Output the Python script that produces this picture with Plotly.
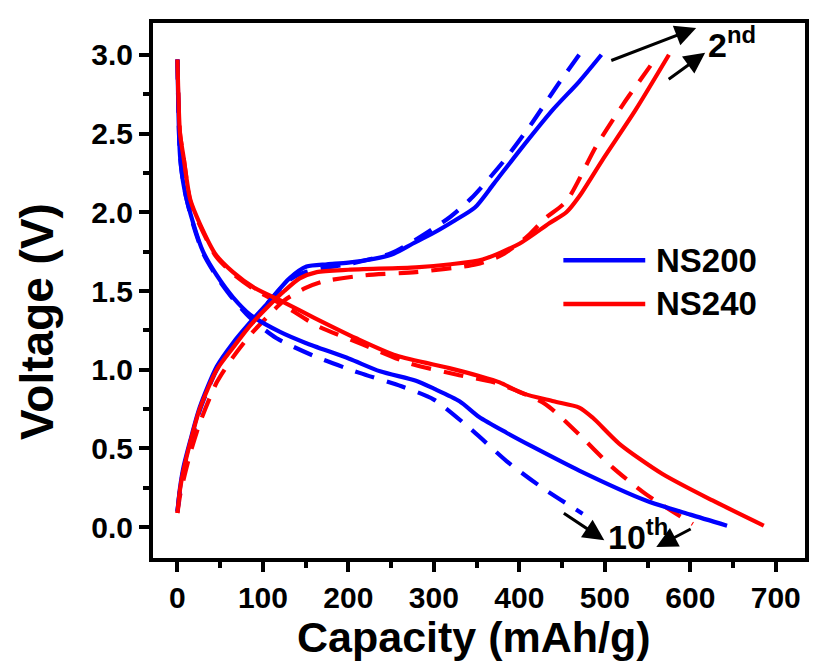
import plotly.graph_objects as go

# ---- data ----
# NS200 charge, solid (2nd cycle)
ns200_ch_s_x = [0, 3, 7, 15, 26, 46, 65, 85, 105, 131, 151, 175, 200, 250, 275, 300, 322, 348, 370, 400, 439, 470, 496]
ns200_ch_s_y = [0.10, 0.25, 0.38, 0.55, 0.76, 1.02, 1.17, 1.30, 1.42, 1.58, 1.655, 1.67, 1.68, 1.73, 1.80, 1.87, 1.94, 2.03, 2.18, 2.39, 2.65, 2.83, 3.00]
# NS200 charge, dashed (10th cycle)
ns200_ch_d_x = [0, 3, 7, 15, 26, 46, 65, 85, 105, 131, 150, 175, 200, 250, 280, 319, 344, 381, 414, 445, 470]
ns200_ch_d_y = [0.10, 0.24, 0.36, 0.53, 0.74, 1.00, 1.15, 1.29, 1.42, 1.57, 1.62, 1.65, 1.67, 1.74, 1.83, 1.97, 2.09, 2.32, 2.56, 2.81, 3.00]
# NS240 charge, solid
ns240_ch_s_x = [0, 3, 7, 15, 26, 46, 65, 85, 104, 125, 143, 163, 200, 279, 320, 357, 400, 435, 455, 470, 497, 536, 575]
ns240_ch_s_y = [0.09, 0.24, 0.36, 0.54, 0.75, 1.00, 1.14, 1.28, 1.39, 1.50, 1.58, 1.62, 1.635, 1.65, 1.67, 1.70, 1.80, 1.93, 2.00, 2.10, 2.33, 2.65, 3.00]
# NS240 charge, dashed
ns240_ch_d_x = [0, 3, 7, 15, 26, 46, 65, 85, 104, 125, 150, 170, 220, 279, 350, 380, 410, 430, 455, 490, 522, 552, 562]
ns240_ch_d_y = [0.09, 0.20, 0.30, 0.47, 0.66, 0.92, 1.08, 1.22, 1.33, 1.44, 1.52, 1.56, 1.60, 1.62, 1.67, 1.73, 1.85, 1.96, 2.07, 2.42, 2.69, 2.92, 3.00]
# NS200 discharge, solid
ns200_dc_s_x = [0, 3, 8, 18.5, 30, 46, 65, 85, 120, 150, 201, 237, 279, 300, 330, 353, 385, 416, 470, 548, 600, 643]
ns200_dc_s_y = [2.97, 2.36, 2.15, 1.93, 1.75, 1.60, 1.46, 1.35, 1.24, 1.17, 1.07, 0.99, 0.93, 0.88, 0.80, 0.70, 0.60, 0.51, 0.36, 0.17, 0.08, 0.01]
# NS200 discharge, dashed
ns200_dc_d_x = [0, 3, 8, 18.5, 30, 46, 65, 85, 116, 163, 213, 262, 300, 346, 385, 427, 474]
ns200_dc_d_y = [2.97, 2.36, 2.15, 1.92, 1.74, 1.59, 1.45, 1.33, 1.20, 1.08, 0.98, 0.895, 0.81, 0.61, 0.42, 0.25, 0.086]
# NS240 discharge, solid
ns240_dc_s_x = [0, 3, 7, 15, 26, 45, 65, 90, 124, 160, 209, 256, 318, 353, 377, 404, 440, 470, 486, 517, 567, 626, 686]
ns240_dc_s_y = [2.97, 2.50, 2.355, 2.08, 1.93, 1.73, 1.62, 1.52, 1.43, 1.33, 1.20, 1.09, 1.01, 0.96, 0.92, 0.85, 0.80, 0.76, 0.695, 0.53, 0.34, 0.17, 0.01]
# NS240 discharge, dashed
ns240_dc_d_x = [0, 3, 7, 15, 26, 45, 65, 90, 124, 163, 217, 272, 326, 370, 400, 431, 466, 509, 548, 603]
ns240_dc_d_y = [2.97, 2.50, 2.355, 2.07, 1.92, 1.72, 1.61, 1.51, 1.41, 1.28, 1.16, 1.04, 0.97, 0.92, 0.86, 0.78, 0.61, 0.38, 0.21, 0.02]

series_names = ["NS200", "NS240"]
x_ticks = [0, 100, 200, 300, 400, 500, 600, 700]
y_ticks = [0.0, 0.5, 1.0, 1.5, 2.0, 2.5, 3.0]

BLUE = "#0000FF"
RED = "#FF0000"
LW = 4.2
DASH = "20px,13px"
FONT = "Liberation Sans"

fig = go.Figure()

def add(x, y, color, dash, name):
    fig.add_trace(go.Scatter(
        x=x, y=y, mode="lines", name=name, showlegend=False,
        line=dict(color=color, width=LW, dash=dash, shape="spline", smoothing=0.7),
    ))

add(ns200_dc_d_x, ns200_dc_d_y, BLUE, DASH, series_names[0])
add(ns200_ch_d_x, ns200_ch_d_y, BLUE, DASH, series_names[0])
add(ns240_dc_d_x, ns240_dc_d_y, RED, DASH, series_names[1])
add(ns240_ch_d_x, ns240_ch_d_y, RED, DASH, series_names[1])
add(ns200_ch_s_x, ns200_ch_s_y, BLUE, "solid", series_names[0])
add(ns200_dc_s_x, ns200_dc_s_y, BLUE, "solid", series_names[0])
add(ns240_ch_s_x, ns240_ch_s_y, RED, "solid", series_names[1])
add(ns240_dc_s_x, ns240_dc_s_y, RED, "solid", series_names[1])

axis_common = dict(
    showline=True, linewidth=4, linecolor="black", mirror=True,
    ticks="outside", ticklen=10, tickwidth=4, tickcolor="black",
    showgrid=False, zeroline=False,
    tickfont=dict(family=FONT, size=30, color="black", weight="bold"),
)

fig.update_xaxes(
    range=[-28.6, 734.2], tickvals=x_ticks, ticktext=[str(v) for v in x_ticks],
    minor=dict(ticks="outside", ticklen=6, tickwidth=4, tickcolor="black", dtick=50, tick0=0),
    **axis_common,
)
fig.update_yaxes(
    range=[-0.1954, 3.2017], tickvals=y_ticks, ticktext=[f"{v:.1f}" for v in y_ticks],
    minor=dict(ticks="outside", ticklen=6, tickwidth=4, tickcolor="black", dtick=0.25, tick0=0),
    **axis_common,
)

# page geometry (the page body adds an 8px offset)
W, H = 812, 660
ML, MT, MR, MB = 145, 11, 14, 110
PW, PH = W - ML - MR, H - MT - MB

def px(xp):  # page pixel -> paper x
    return (xp - 8 - ML) / PW

def py(yp):  # page pixel -> paper y
    return 1 - (yp - 8 - MT) / PH

# axis titles
fig.add_annotation(text="Capacity (mAh/g)", x=px(474), y=py(638), xref="paper", yref="paper",
                   showarrow=False, xanchor="center", yanchor="middle",
                   font=dict(family=FONT, size=43, color="black", weight="bold"))
fig.add_annotation(text="Voltage (V)", x=px(37), y=py(320), xref="paper", yref="paper",
                   showarrow=False, xanchor="center", yanchor="middle", textangle=-90,
                   font=dict(family=FONT, size=46, color="black", weight="bold"))

# legend drawn as sample lines + labels
legend_rows = [(series_names[0], BLUE, 258), (series_names[1], RED, 302)]
for name, col, yrow in legend_rows:
    fig.add_shape(type="line", xref="paper", yref="paper", x0=px(564), x1=px(646),
                  y0=py(yrow), y1=py(yrow), line=dict(color=col, width=4.5))
    fig.add_annotation(text=name, x=px(655), y=py(yrow), xref="paper", yref="paper",
                       showarrow=False, xanchor="left", yanchor="middle",
                       font=dict(family=FONT, size=33, color="black", weight="bold"))

arrow = dict(showarrow=True, arrowhead=2, arrowsize=1.4, arrowwidth=3, arrowcolor="black",
             axref="x", ayref="y", xref="x", yref="y", text="", standoff=0)
# "2nd" arrows
fig.add_annotation(x=606.9, y=3.170, ax=505.8, ay=2.960, **arrow)
fig.add_annotation(x=617.4, y=3.013, ax=573.0, ay=2.838, **arrow)
fig.add_annotation(x=618.0, y=3.075, text="2<sup>nd</sup>", showarrow=False, xref="x", yref="y",
                   xanchor="left", yanchor="middle",
                   font=dict(family=FONT, size=34, color="black", weight="bold"))
# "10th" arrows
fig.add_annotation(x=499.4, y=-0.082, ax=450.3, ay=0.0945, **arrow)
fig.add_annotation(x=560.2, y=-0.126, ax=602.2, ay=-0.006, **arrow)
fig.add_annotation(x=538.5, y=-0.045, text="10<sup>th</sup>", showarrow=False, xref="x", yref="y",
                   xanchor="center", yanchor="middle",
                   font=dict(family=FONT, size=34, color="black", weight="bold"))

fig.update_layout(
    width=W, height=H,
    margin=dict(l=ML, r=MR, t=MT, b=MB),
    paper_bgcolor="white", plot_bgcolor="white",
    showlegend=False,
)

fig.write_html("out.html")
